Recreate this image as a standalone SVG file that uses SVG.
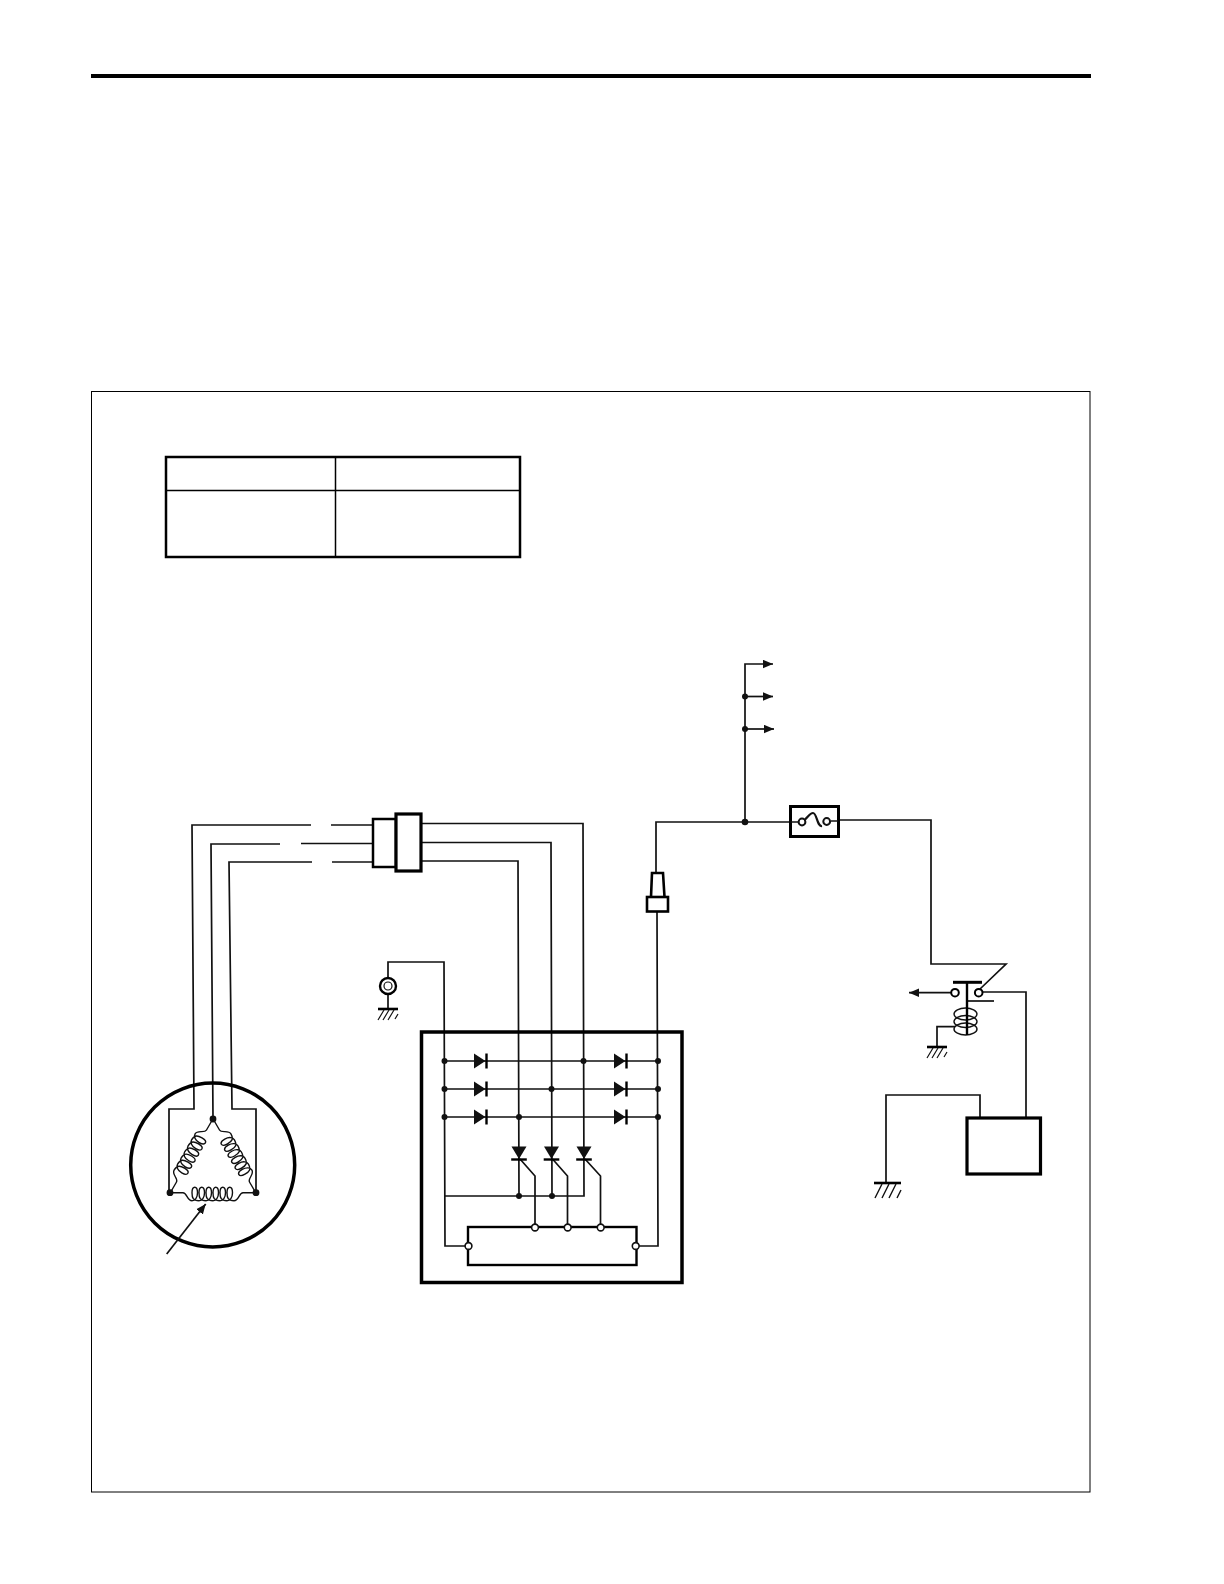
<svg xmlns="http://www.w3.org/2000/svg" width="1224" height="1584" viewBox="0 0 1224 1584">
<style>
.w{fill:none;stroke:#111;stroke-width:1.7}
.k{fill:none;stroke:#111;stroke-width:1.4}
.t{fill:none;stroke:#000;stroke-width:3.500}
.b{fill:#fff;stroke:#000;stroke-width:3.200}
.c{fill:#111;stroke:none}
.o{fill:#fff;stroke:#111;stroke-width:1.600}
.a{marker-end:url(#ah)}
</style>
<defs>
<marker id="ah" markerUnits="userSpaceOnUse" markerWidth="12" markerHeight="9" refX="10" refY="4.500" orient="auto"><path d="M0,0.300L10,4.500L0,8.700Z" fill="#111"/></marker>
<path id="coil" class="k" d="M-43,0H-30c4,0 4,8 9,8c3,0 5.500,-3 5.500,-8c0,-3.500 -1.200,-5.500 -2.750,-5.500c-1.500,0 -2.750,2 -2.750,5.500c0,5 1,8 7,8c3,0 5.500,-3 5.500,-8c0,-3.500 -1.200,-5.500 -2.750,-5.500c-1.500,0 -2.750,2 -2.750,5.500c0,5 1,8 7,8c3,0 5.500,-3 5.500,-8c0,-3.500 -1.200,-5.500 -2.750,-5.500c-1.500,0 -2.750,2 -2.750,5.500c0,5 1,8 7,8c3,0 5.500,-3 5.500,-8c0,-3.500 -1.200,-5.500 -2.750,-5.500c-1.500,0 -2.750,2 -2.750,5.500c0,5 1,8 7,8c3,0 5.500,-3 5.500,-8c0,-3.500 -1.200,-5.500 -2.750,-5.500c-1.500,0 -2.750,2 -2.750,5.500c0,5 1,8 7,8c3,0 5.500,-3 5.500,-8c0,-3.500 -1.200,-5.500 -2.750,-5.500c-1.500,0 -2.750,2 -2.750,5.500c0,5 1,8 7,8c5,0 5,-8 9,-8H43"/>
<g id="gnd"><path d="M-10,0H10" stroke="#000" stroke-width="2.600" fill="none"/><path class="k" style="stroke-width:1.200" d="M-4,1L-10,11M1,1L-5,11M6,1L0,11M10,5L7,10"/></g>
<g id="diR"><path class="c" d="M0,-7.500L11.500,0L0,7.500Z"/><path d="M12.500,-7.500V7.500" stroke="#000" stroke-width="2.400"/></g>
<g id="diD"><path class="c" d="M-7.500,-12.500H7.500L0,0Z"/><path d="M-7.800,0.500H7.800" stroke="#000" stroke-width="2.400"/></g>
</defs>
<rect width="1224" height="1584" fill="#fff"/>
<g id="page">
<rect x="91" y="74" width="1000" height="4" fill="#000"/>
<rect x="91.500" y="391.500" width="998.500" height="1100.500" fill="none" stroke="#000" stroke-width="1"/>
</g>
<g id="table">
<rect x="166" y="457" width="354" height="100" fill="none" stroke="#000" stroke-width="2.500"/>
<path d="M166,490.500H520M335.500,457V557" fill="none" stroke="#000" stroke-width="1.500"/>
</g>
<g id="connectors">
<path class="w" d="M311,825H192L194,1109H169V1193"/>
<path class="w" d="M331,825H373"/>
<path class="w" d="M280,844H211L213,1119"/>
<path class="w" d="M301,843.500H373"/>
<path class="w" d="M312,862H229L232,1109H256V1193"/>
<path class="w" d="M332,862H373"/>
<path class="w" d="M421,823.500H583L584,1196H445"/>
<path class="w" d="M421,842.500H551L552,1196"/>
<path class="w" d="M421,861H518L519,1196"/>
<path class="w" d="M388,978V962H444L445,1246H468"/>
<path class="w" d="M388,994V1009"/>
<path class="w" d="M445,1061H658M445,1089H658M445,1117H658"/>
<path class="w" d="M656,873V822H790M838,820H931V964H1006L980,989"/>
<path class="w" d="M657,912L658,1246H636"/>
<path class="w a" d="M745,822V664H773"/>
<path class="w a" d="M745,696.500H773"/>
<path class="w a" d="M745,729H774"/>
<path class="w" d="M520,1159L535,1176V1227M552.500,1159L567.500,1176V1227M585,1159L600.500,1176V1227"/>
<path class="w" d="M983,992H1026V1118"/>
<path class="w" d="M980,1118V1095H886V1183"/>
<path class="w a" d="M951,992.700H909"/>
</g>
<g id="stator">
<ellipse cx="212.700" cy="1165" rx="82" ry="82" class="t"/>
<use href="#coil" transform="translate(213,1192.700)"/>
<use href="#coil" transform="translate(191.500,1156) rotate(120)"/>
<use href="#coil" transform="translate(234.500,1156) rotate(-120)"/>
<circle class="c" cx="213" cy="1119" r="3.400"/><circle class="c" cx="170" cy="1192.700" r="3.400"/><circle class="c" cx="256" cy="1192.700" r="3.400"/>
<path class="w a" d="M166.700,1254L205.700,1204"/>
</g>
<g id="coupler">
<rect class="b" x="373" y="819" width="23" height="48" style="stroke-width:2.500"/>
<rect class="b" x="396" y="814" width="25" height="57"/>
</g>
<g id="sensor">
<circle cx="388" cy="986" r="8" fill="#fff" stroke="#000" stroke-width="2.400"/>
<circle cx="388" cy="986" r="4" fill="#fff" stroke="#111" stroke-width="1.200"/>
<use href="#gnd" x="388" y="1009"/>
</g>
<g id="rectifier">
<rect x="421.500" y="1032" width="260.500" height="250.500" class="t"/>
<use href="#diR" x="474" y="1061"/><use href="#diR" x="474" y="1089"/><use href="#diR" x="474" y="1117"/>
<use href="#diR" x="614" y="1061"/><use href="#diR" x="614" y="1089"/><use href="#diR" x="614" y="1117"/>
<use href="#diD" x="519" y="1159"/><use href="#diD" x="551.500" y="1159"/><use href="#diD" x="584" y="1159"/>
<path class="c" d="M441.500,1061a3,3 0 1,0 6,0a3,3 0 1,0 -6,0M441.500,1089a3,3 0 1,0 6,0a3,3 0 1,0 -6,0M441.500,1117a3,3 0 1,0 6,0a3,3 0 1,0 -6,0M655,1061a3,3 0 1,0 6,0a3,3 0 1,0 -6,0M655,1089a3,3 0 1,0 6,0a3,3 0 1,0 -6,0M655,1117a3,3 0 1,0 6,0a3,3 0 1,0 -6,0M580.500,1061a3,3 0 1,0 6,0a3,3 0 1,0 -6,0M548.500,1089a3,3 0 1,0 6,0a3,3 0 1,0 -6,0M516,1117a3,3 0 1,0 6,0a3,3 0 1,0 -6,0M516,1196a3,3 0 1,0 6,0a3,3 0 1,0 -6,0M549,1196a3,3 0 1,0 6,0a3,3 0 1,0 -6,0"/>
<rect x="468" y="1227" width="168.500" height="38" fill="none" stroke="#000" stroke-width="2.400"/>
<circle class="o" cx="535" cy="1227.500" r="3.400"/><circle class="o" cx="567.700" cy="1227.500" r="3.400"/><circle class="o" cx="600.700" cy="1227.500" r="3.400"/>
<circle class="o" cx="468.500" cy="1246" r="3.400"/><circle class="o" cx="635.700" cy="1246" r="3.400"/>
</g>
<g id="plug">
<path d="M651,897L652,873H663L664.500,897" fill="#fff" stroke="#000" stroke-width="2.600"/>
<rect x="647" y="897" width="21" height="14.500" fill="#fff" stroke="#000" stroke-width="2.600"/>
</g>
<g id="fuse">
<rect x="790.500" y="806.500" width="48" height="30" fill="#fff" stroke="#000" stroke-width="3"/>
<path class="w" d="M790.500,822H798M831,821H838"/>
<path fill="none" stroke="#111" stroke-width="2.200" d="M804.500,820C808,817 810,813 813,813C817,813 817,827 822,826"/>
<circle class="o" cx="802" cy="822" r="3.400" style="stroke-width:2"/><circle class="o" cx="826.700" cy="821.500" r="3.400" style="stroke-width:2"/>
</g>
<g id="junctions">
<circle class="c" cx="745" cy="822" r="3.300"/><circle class="c" cx="745" cy="696.500" r="3"/><circle class="c" cx="745" cy="729" r="3"/>
</g>
<g id="relay">
<path d="M953,982.300H982" stroke="#000" stroke-width="3"/>
<path class="w" d="M967,1001H994"/>
<path class="w" d="M955,1026.700H937V1047"/>
<ellipse class="k" cx="965.500" cy="1014" rx="11.500" ry="6"/>
<ellipse class="k" cx="965.500" cy="1021.500" rx="11.500" ry="6"/>
<ellipse class="k" cx="965.500" cy="1029" rx="11.500" ry="6"/>
<path d="M967,982V1035" stroke="#000" stroke-width="2.400"/>
<circle cx="955" cy="992.700" r="3.800" fill="#fff" stroke="#000" stroke-width="2"/>
<circle cx="978.700" cy="992.700" r="3.800" fill="#fff" stroke="#000" stroke-width="2"/>
<use href="#gnd" x="937" y="1047"/>
</g>
<g id="battery">
<rect x="967" y="1118" width="73.500" height="56" class="b"/>
<path d="M874,1183H901" stroke="#000" stroke-width="2.600" fill="none"/>
<path class="k" d="M882,1184L875,1198M889,1184L882,1198M896,1184L889,1198M901,1190L897,1198"/>
</g>
</svg>
